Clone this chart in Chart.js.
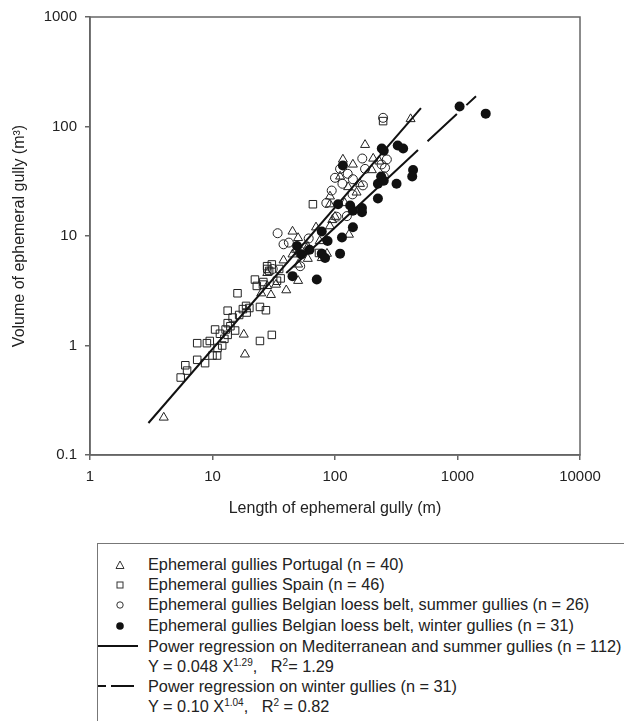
<!DOCTYPE html>
<html>
<head>
<meta charset="utf-8">
<script src="https://cdn.jsdelivr.net/npm/chart.js@4.4.1/dist/chart.umd.min.js"></script>
<style>
  body { margin: 0; background: #fff; font-family: "Liberation Sans", Arial, sans-serif; color: #222; }
  #wrap { position: relative; width: 624px; height: 721px; overflow: hidden; }
  #plot { position: absolute; left: 0; top: 0; }
  #legend { position: absolute; left: 97px; top: 543px; width: 540px; height: 200px;
            border-top: 1.5px solid #777; border-left: 1.5px solid #777; font-size: 16.3px; }
  .row { position: absolute; left: 50px; white-space: nowrap; line-height: 20px; }
  .sym { position: absolute; left: 16px; }
  .sup { position: relative; top: -6px; font-size: 10px; }
  .ln { position: absolute; height: 2px; background: #111; }
</style>
</head>
<body>
<div id="wrap">
  <canvas id="plot" width="624" height="530"></canvas>
  <div id="legend">
    <svg class="sym" style="top:15px" width="12" height="12"><polygon points="6,2 10,9.5 2,9.5" fill="none" stroke="#333" stroke-width="1"/></svg>
    <div class="row" style="top:10px">Ephemeral gullies Portugal (n = 40)</div>
    <svg class="sym" style="top:35px" width="12" height="12"><rect x="3" y="3" width="6" height="6" fill="none" stroke="#333" stroke-width="1"/></svg>
    <div class="row" style="top:30px">Ephemeral gullies Spain (n = 46)</div>
    <svg class="sym" style="top:55px" width="12" height="12"><circle cx="6" cy="6" r="3.2" fill="none" stroke="#333" stroke-width="1"/></svg>
    <div class="row" style="top:50px">Ephemeral gullies Belgian loess belt, summer gullies (n = 26)</div>
    <svg class="sym" style="top:76px" width="12" height="12"><circle cx="6" cy="6" r="3.8" fill="#111"/></svg>
    <div class="row" style="top:71px">Ephemeral gullies Belgian loess belt, winter gullies (n = 31)</div>
    <div class="ln" style="left:0; width:40px; top:101px"></div>
    <div class="row" style="top:92px">Power regression on Mediterranean and summer gullies (n = 112)</div>
    <div class="row" style="top:112px">Y = 0.048 X<span class="sup">1.29</span>,&nbsp;&nbsp; R<span class="sup">2</span>= 1.29</div>
    <div class="ln" style="left:0; width:8px; top:141px"></div>
    <div class="ln" style="left:13px; width:23px; top:141px"></div>
    <div class="row" style="top:132px">Power regression on winter gullies (n = 31)</div>
    <div class="row" style="top:152px">Y = 0.10 X<span class="sup">1.04</span>,&nbsp;&nbsp; R<span class="sup">2</span> = 0.82</div>
  </div>
</div>
<script>
// axis ticks
const xTicks = [1, 10, 100, 1000, 10000];
const yTicks = [0.1, 1, 10, 100, 1000];

// Ephemeral gullies Portugal (triangles)
const portugalX = [4.0, 18, 18.4, 30, 40, 50, 28, 28, 45, 45, 50, 91, 91, 130, 86, 78, 176, 116, 205, 128,
                   91, 414, 33, 50, 48, 60, 70, 100, 150, 110, 140, 200, 160, 25, 38, 95, 120, 60, 75, 230];
const portugalY = [0.22, 1.26, 0.83, 2.9, 3.2, 3.9, 4.6, 3.5, 6.8, 11, 9.6, 19.5, 12.3, 10.3, 6.9, 6.3, 68, 50, 51, 28,
                   23, 117, 3.6, 5.5, 7.5, 8, 12, 15, 25, 35, 45, 40, 30, 3, 6, 14, 20, 6.2, 9, 48];

// Ephemeral gullies Spain (squares)
const spainX = [5.5, 6.2, 6.0, 7.5, 8.7, 10, 10.9, 12, 7.5, 9, 10.5, 11.5, 13.3, 12.8, 15.3, 13.3, 14.6, 13.3, 17.7, 18.8,
                24.4, 27.3, 24.4, 30.5, 16, 22.2, 23, 25.8, 27.9, 30.5, 29, 33.6, 36, 66, 247, 74,
                11, 9.5, 14, 20, 16.5, 26, 28, 35, 19, 12.5];
const spainY = [0.51, 0.59, 0.66, 0.74, 0.69, 0.81, 0.81, 1.0, 1.05, 1.05, 1.4, 1.28, 1.25, 1.4, 1.37, 1.6, 1.8, 2.08, 2.15, 2.3,
                2.25, 2.1, 1.1, 1.25, 3.0, 4.0, 3.5, 3.6, 5.3, 5.5, 4.8, 3.9, 4.1, 19.5, 112, 7.0,
                0.95, 1.1, 1.5, 2.2, 1.9, 3.8, 5.0, 5.0, 2.0, 1.15];

// Belgian loess belt, summer gullies (open circles)
const summerX = [247, 167, 265, 256, 176, 110, 100, 94, 169, 127, 103, 125, 34, 38, 42, 52, 31, 139, 52, 57,
                 115, 140, 240, 85, 61, 250];
const summerY = [120, 51, 50, 42, 41, 41, 34, 26, 29, 37, 15, 15.2, 10.6, 8.4, 8.7, 5.3, 5.0, 24, 7.3, 7.8,
                 30, 33, 45, 20, 9.5, 35];

// Belgian loess belt, winter gullies (filled circles)
const winterX = [1040, 1700, 241, 250, 325, 360, 434, 427, 116, 238, 224, 250, 318, 224, 106, 133, 140, 166, 166, 140,
                 78, 114, 49, 53, 87, 78, 83, 110, 45, 71, 62];
const winterY = [152, 131, 63, 60, 67, 63, 40, 35, 44, 35, 30, 32, 30, 22, 19.5, 19, 17, 18, 16.5, 12,
                 11, 9.7, 8.1, 6.8, 9.0, 6.9, 6.3, 6.9, 4.3, 4.0, 7.5];

// regression lines (end points)
const medFitX = [3, 503];
const medFitY = [0.196, 147];
const winFitX = [40, 476, 1416];
const winFitY = [4.6, 61, 189];

function pts(xs, ys) {
    return xs.map((x, i) => ({ x: x, y: ys[i] }));
}

const ink = '#222';
const axisColor = '#666';

const frame = {
    id: 'frame',
    afterDraw(chart) {
        const a = chart.chartArea;
        const c = chart.ctx;
        c.save();
        c.strokeStyle = axisColor;
        c.lineWidth = 1.5;
        c.strokeRect(a.left, a.top, a.right - a.left, a.bottom - a.top);
        c.restore();
    }
};

function openPoints(data, style, r) {
    return {
        data: data,
        pointStyle: style,
        pointRadius: r,
        backgroundColor: 'rgba(0,0,0,0)',
        borderColor: ink,
        borderWidth: 1
    };
}

const ctx = document.getElementById('plot').getContext('2d');
const chart = new Chart(ctx, {
    type: 'scatter',
    data: {
        datasets: [
            {
                type: 'line',
                data: pts(medFitX, medFitY),
                borderColor: '#111',
                borderWidth: 2,
                pointRadius: 0,
                fill: false
            },
            {
                type: 'line',
                data: pts(winFitX, winFitY),
                borderColor: '#111',
                borderWidth: 2,
                pointRadius: 0,
                fill: false,
                segment: {
                    borderDash: c => c.p0DataIndex >= 1 ? [40, 13] : undefined,
                    borderDashOffset: c => c.p0DataIndex >= 1 ? 40 : 0
                }
            },
            {
                data: pts(winterX, winterY),
                pointStyle: 'circle',
                pointRadius: 5,
                backgroundColor: '#111',
                borderColor: '#111',
                borderWidth: 0
            },
            openPoints(pts(summerX, summerY), 'circle', 4.5),
            openPoints(pts(spainX, spainY), 'rect', 5.3),
            openPoints(pts(portugalX, portugalY), 'triangle', 5.2)
        ]
    },
    options: {
        responsive: false,
        devicePixelRatio: 1,
        animation: false,
        layout: { padding: { left: 0, right: 44, top: 15, bottom: 0 } },
        plugins: { legend: { display: false }, tooltip: { enabled: false } },
        scales: {
            x: {
                type: 'logarithmic',
                min: 1,
                max: 10000,
                afterFit: s => { s.height = 75; },
                afterBuildTicks: s => { s.ticks = xTicks.map(v => ({ value: v })); },
                ticks: {
                    callback: v => String(v),
                    color: ink,
                    font: { family: 'Liberation Sans', size: 15 },
                    padding: 8,
                    maxRotation: 0
                },
                grid: { drawOnChartArea: false, tickLength: 5, color: axisColor, lineWidth: 1.5 },
                border: { color: axisColor, width: 1.5 },
                title: {
                    display: true,
                    text: 'Length of ephemeral gully (m)',
                    color: ink,
                    font: { family: 'Liberation Sans', size: 16 },
                    padding: { top: 0, bottom: 12 }
                }
            },
            y: {
                type: 'logarithmic',
                min: 0.1,
                max: 1000,
                afterFit: s => { s.width = 90; },
                afterBuildTicks: s => { s.ticks = yTicks.map(v => ({ value: v })); },
                ticks: {
                    callback: v => String(v),
                    color: ink,
                    font: { family: 'Liberation Sans', size: 15 },
                    padding: 8
                },
                grid: { drawOnChartArea: false, tickLength: 5, color: axisColor, lineWidth: 1.5 },
                border: { color: axisColor, width: 1.5 },
                title: {
                    display: true,
                    text: 'Volume of ephemeral gully (m³)',
                    color: ink,
                    font: { family: 'Liberation Sans', size: 16 },
                    padding: { top: 10, bottom: 0 }
                }
            }
        }
    },
    plugins: [frame]
});
</script>
</body>
</html>
